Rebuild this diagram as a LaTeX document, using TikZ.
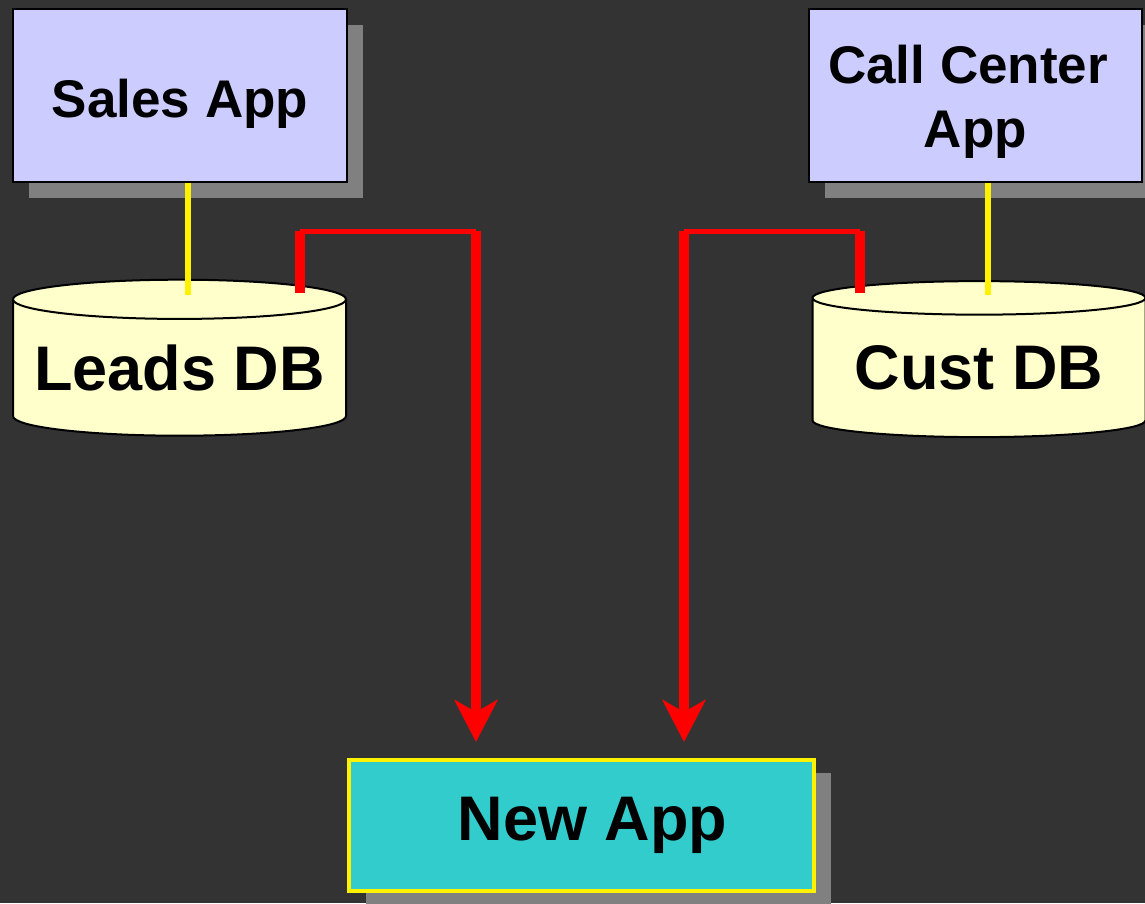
\documentclass[tikz,border=0pt]{standalone}
\usepackage{fontspec}
\setmainfont{Liberation Sans}
\usetikzlibrary{shapes.geometric, arrows.meta, shadows}
\definecolor{bgdark}{HTML}{333333}
\definecolor{appblue}{HTML}{CCCCFF}
\definecolor{dbyellow}{HTML}{FFFFCC}
\definecolor{newcyan}{HTML}{33CCCC}
\definecolor{shadowgray}{HTML}{808080}

\begin{document}
\begin{tikzpicture}[x=1pt, y=-1pt,
  appbox/.style={draw=black, line width=2pt, fill=appblue, rectangle, inner sep=0pt,
    minimum height=173pt, font=\fontsize{53}{64}\selectfont\bfseries,
    drop shadow={shadow xshift=16pt, shadow yshift=-16pt, fill=shadowgray, opacity=1}},
  dbcyl/.style={draw=black, line width=2pt, fill=dbyellow, cylinder, shape border rotate=90,
    aspect=0.135, inner sep=0pt, minimum width=333pt, minimum height=156pt,
    font=\fontsize{63}{70}\selectfont\bfseries},
  newbox/.style={draw=yellow, line width=4pt, fill=newcyan, rectangle, inner sep=0pt,
    minimum width=465pt, minimum height=131pt, font=\fontsize{63}{70}\selectfont\bfseries,
    drop shadow={shadow xshift=17pt, shadow yshift=-13pt, fill=shadowgray, opacity=1}},
  feedthick/.style={draw=red, line width=10.5pt},
  feedthin/.style={draw=red, line width=5pt},
  applink/.style={draw=yellow, line width=5.5pt}]
\useasboundingbox[fill=bgdark] (0,0) rectangle (1145,903);

% Nodes
\node[appbox, minimum width=334pt, text height=43pt, text depth=0pt] (sales) at (180,95.5) {Sales App};
\node[appbox, minimum width=333pt, align=center, text height=103pt, text depth=0pt] (callcenter) at (975.5,95.5) {Call Center\hspace*{.28em}\\App};
\node[dbcyl] (leads) at (179.5,368) {Leads DB};
\node[dbcyl] (cust) at (979,368) {Cust DB};
\node[newbox] (newapp) at (581.5,825.5) {\hspace*{.35em}New App};

% Coordinates
\coordinate (salesdown) at (188,295);
\coordinate (calldown) at (988,295);
\coordinate (leadsout) at (300,293);
\coordinate (leadsup) at (300,231);
\coordinate (leadsturn) at (476,231);
\coordinate (custout) at (860,293);
\coordinate (custup) at (860,231);
\coordinate (custturn) at (684,231);
\coordinate (leadsin) at ([yshift=16pt]newapp.north -| leadsturn);
\coordinate (custin) at ([yshift=16pt]newapp.north -| custturn);

% Links
\draw[applink] (salesdown |- sales.south) -- (salesdown);
\draw[applink] (calldown |- callcenter.south) -- (calldown);

% Arrows
\draw[feedthick] (leadsout) -- (leadsup);
\draw[feedthin] (leadsup) -- (leadsturn);
\draw[feedthick, -{Stealth[length=42pt, width=43pt, inset=12pt]}] (leadsturn) -- (leadsin);
\draw[feedthick] (custout) -- (custup);
\draw[feedthin] (custup) -- (custturn);
\draw[feedthick, -{Stealth[length=42pt, width=43pt, inset=12pt]}] (custturn) -- (custin);
\end{tikzpicture}
\end{document}
